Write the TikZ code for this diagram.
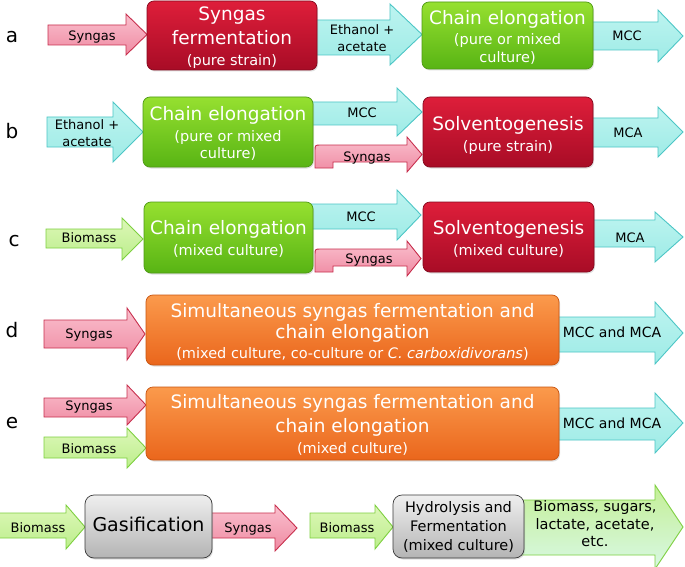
\documentclass[tikz,border=0pt]{standalone}
\usepackage{fontspec}
\setmainfont{DejaVu Sans}
\usetikzlibrary{shadows}
\definecolor{pinktop}{HTML}{FAC0CE}
\definecolor{pinkbot}{HTML}{EF8AA2}
\definecolor{pinkline}{HTML}{C8304E}
\definecolor{cyantop}{HTML}{BDF4F0}
\definecolor{cyanbot}{HTML}{9EEBE6}
\definecolor{cyanline}{HTML}{4CC6C6}
\definecolor{lgtop}{HTML}{DDF7B8}
\definecolor{lgbot}{HTML}{BCEE8C}
\definecolor{lgline}{HTML}{7ED040}
\definecolor{bgtop}{HTML}{C4EF96}
\definecolor{bgbot}{HTML}{D8F8E4}
\definecolor{redtop}{HTML}{DE1E3A}
\definecolor{redbot}{HTML}{A80C26}
\definecolor{redline}{HTML}{86081E}
\definecolor{grtop}{HTML}{96E030}
\definecolor{grbot}{HTML}{58B414}
\definecolor{grline}{HTML}{4E9A14}
\definecolor{ortop}{HTML}{FB9A4C}
\definecolor{orbot}{HTML}{EA661C}
\definecolor{orline}{HTML}{C85510}
\definecolor{gytop}{HTML}{EFEFEF}
\definecolor{gybot}{HTML}{B4B4B4}
\definecolor{gyline}{HTML}{3A3A3A}
\newcommand{\blockarr}[8]{\path[#1] (#2,#5) -- (#3,#5) -- (#3,#7) -- (#4,{(#7+#8)/2}) -- (#3,#8) -- (#3,#6) -- (#2,#6) -- cycle;}
\newcommand{\bentarr}[9]{\path[#1] (#2,#7) -- (#2,{#5+6}) .. controls (#2,#5) .. ({#2+6},#5) -- (#3,#5) -- (#3,#8) -- (#4,{(#8+#9)/2}) -- (#3,#9) -- (#3,#6) -- ({#2+18},#6) -- ({#2+18},#7) -- cycle;}
\begin{document}
\begin{tikzpicture}[x=1pt,y=-1pt,
  pinkarr/.style={draw=pinkline, top color=pinktop, bottom color=pinkbot, line width=0.9pt, line join=miter},
  cyanarr/.style={draw=cyanline, top color=cyantop, bottom color=cyanbot, line width=0.9pt},
  greenarr/.style={draw=lgline, top color=lgtop, bottom color=lgbot, line width=0.9pt},
  biggreen/.style={draw=lgline, top color=bgtop, bottom color=bgbot, line width=0.9pt},
  boxbase/.style={rectangle, rounded corners=7pt, line width=0.7pt, inner sep=0pt,
     drop shadow={shadow xshift=1pt, shadow yshift=-1.5pt, opacity=0.25}},
  redbox/.style={boxbase, draw=redline, top color=redtop, bottom color=redbot},
  greenbox/.style={boxbase, draw=grline, top color=grtop, bottom color=grbot},
  orangebox/.style={boxbase, draw=orline, top color=ortop, bottom color=orbot},
  graybox/.style={boxbase, draw=gyline, top color=gytop, bottom color=gybot, rounded corners=9pt},
  ttl/.style={font=\fontsize{18.5}{20}\selectfont, text=white, anchor=mid, inner sep=0pt, yshift=-3pt},
  sub/.style={font=\fontsize{14.5}{16}\selectfont, text=white, anchor=mid, inner sep=0pt, yshift=-2.5pt},
  lbl/.style={font=\fontsize{13}{15}\selectfont, text=black, anchor=mid, inner sep=0pt, yshift=-2pt},
  lblb/.style={font=\fontsize{14}{16}\selectfont, text=black, anchor=mid, inner sep=0pt, yshift=-2pt},
  gtxt/.style={font=\fontsize{14.5}{16}\selectfont, text=black, anchor=mid, inner sep=0pt, yshift=-2pt},
  rowlbl/.style={font=\fontsize{20}{22}\selectfont, text=black, anchor=mid, inner sep=0pt, yshift=-2pt}
]
\useasboundingbox (0,0) rectangle (685,567);
\fill[white] (0,0) rectangle (685,567);

% ---------- arrows (behind boxes) ----------
% row a
\blockarr{pinkarr}{48}{126}{147}{25}{45}{14}{55}
\blockarr{cyanarr}{310}{390}{422}{20}{55}{4}{65}
\blockarr{cyanarr}{585}{658}{683}{22}{50}{10}{62}
% row b
\blockarr{cyanarr}{47}{113}{143}{117}{147}{102}{162}
\blockarr{cyanarr}{305}{397}{422}{102}{125}{88}{136}
\bentarr{pinkarr}{315}{407}{422}{145}{162}{168}{137}{172}
\blockarr{cyanarr}{585}{658}{683}{118}{147}{107}{157}
% row c
\blockarr{greenarr}{46}{122}{143}{229}{248}{218}{260}
\blockarr{cyanarr}{305}{397}{421}{204}{229}{190}{240}
\bentarr{pinkarr}{315}{407}{421}{249}{266}{272}{241}{276}
\blockarr{cyanarr}{585}{655}{683}{220}{247}{212}{262}
% row d
\blockarr{pinkarr}{44}{127}{145}{320}{348}{308}{360}
\blockarr{cyanarr}{550}{655}{683}{317}{352}{302}{364}
% row e
\blockarr{pinkarr}{44}{127}{146}{398}{417}{385}{425}
\blockarr{greenarr}{44}{127}{146}{437}{458}{428}{468}
\blockarr{cyanarr}{550}{655}{683}{408}{440}{393}{453}
% bottom row
\blockarr{greenarr}{-2}{66}{85}{513}{538}{505}{549}
\blockarr{pinkarr}{205}{275}{297}{513}{538}{505}{551}
\blockarr{greenarr}{310}{375}{393}{513}{538}{505}{549}
\blockarr{biggreen}{515}{655}{683}{500}{555}{485}{569}

% ---------- boxes ----------
\node[redbox, minimum width=170pt, minimum height=69pt] (A1) at (232,35.5) {};
\node[greenbox, minimum width=171pt, minimum height=67pt] (A2) at (507.5,35.5) {};
\node[greenbox, minimum width=170pt, minimum height=70pt] (B1) at (228,132) {};
\node[redbox, minimum width=170pt, minimum height=70pt] (B2) at (508,132) {};
\node[greenbox, minimum width=169pt, minimum height=71pt] (C1) at (228.5,237.5) {};
\node[redbox, minimum width=171pt, minimum height=70pt] (C2) at (508.5,237) {};
\node[orangebox, minimum width=413pt, minimum height=70pt] (D1) at (352.5,330) {};
\node[orangebox, minimum width=413pt, minimum height=73pt] (E1) at (352.5,423.5) {};
\node[graybox, minimum width=127pt, minimum height=63pt] (G1) at (148.5,526.5) {};
\node[graybox, minimum width=131pt, minimum height=63pt] (H1) at (458.5,526.5) {};

% ---------- row labels ----------
\node[rowlbl] (la) at (12,38) {a};
\node[rowlbl] (lb) at (12,134) {b};
\node[rowlbl] (lc) at (14,242) {c};
\node[rowlbl] (ld) at (12,333) {d};
\node[rowlbl] (le) at (12,424) {e};

% ---------- row a texts ----------
\node[lbl] (ta1) at (92,36) {Syngas};
\node[ttl] (ta2) at (232,15) {Syngas};
\node[ttl] (ta3) at (232,39) {fermentation};
\node[sub] (ta4) at (232,60) {(pure strain)};
\node[lbl] (ta5) at (362,30) {Ethanol +};
\node[lbl] (ta6) at (362,47) {acetate};
\node[ttl] (ta7) at (507.5,19) {Chain elongation};
\node[sub] (ta8) at (507.5,39) {(pure or mixed};
\node[sub] (ta9) at (507.5,57) {culture)};
\node[lbl] (ta10) at (627,36) {MCC};

% ---------- row b texts ----------
\node[lbl] (tb1) at (87,125) {Ethanol +};
\node[lbl] (tb2) at (87,142) {acetate};
\node[ttl] (tb3) at (228,115) {Chain elongation};
\node[sub] (tb4) at (228,136) {(pure or mixed};
\node[sub] (tb5) at (228,153) {culture)};
\node[lbl] (tb6) at (362,113) {MCC};
\node[lbl] (tb7) at (367,157) {Syngas};
\node[ttl] (tb8) at (508,125) {Solventogenesis};
\node[sub] (tb9) at (508,146) {(pure strain)};
\node[lbl] (tb10) at (628,133) {MCA};

% ---------- row c texts ----------
\node[lbl] (tc1) at (89,238) {Biomass};
\node[ttl] (tc2) at (228.5,229) {Chain elongation};
\node[sub] (tc3) at (228.5,250) {(mixed culture)};
\node[lbl] (tc4) at (361,217) {MCC};
\node[lbl] (tc5) at (369,259) {Syngas};
\node[ttl] (tc6) at (508.5,229) {Solventogenesis};
\node[sub] (tc7) at (508.5,250) {(mixed culture)};
\node[lbl] (tc8) at (630,238) {MCA};

% ---------- row d texts ----------
\node[lbl] (td1) at (89,334) {Syngas};
\node[ttl] (td2) at (352.5,312) {Simultaneous syngas fermentation and};
\node[ttl] (td3) at (352.5,333) {chain elongation};
\node[sub] (td4) at (352.5,353) {(mixed culture, co-culture or \textit{C. carboxidivorans})};
\node[lblb] (td5) at (612,333) {MCC and MCA};

% ---------- row e texts ----------
\node[lbl] (te1) at (89,406) {Syngas};
\node[lbl] (te2) at (89,449) {Biomass};
\node[ttl] (te3) at (352.5,403) {Simultaneous syngas fermentation and};
\node[ttl] (te4) at (352.5,427) {chain elongation};
\node[sub] (te5) at (352.5,448) {(mixed culture)};
\node[lblb] (te6) at (612,424) {MCC and MCA};

% ---------- bottom row texts ----------
\node[lbl] (tf1) at (38,528) {Biomass};
\node[font=\fontsize{19}{21}\selectfont, text=black, anchor=mid, inner sep=0pt, yshift=-2pt] (tf2) at (148.5,527) {Gasification};
\node[lbl] (tf3) at (248,528) {Syngas};
\node[lbl] (tf4) at (347,528) {Biomass};
\node[gtxt] (tf5) at (458.5,508) {Hydrolysis and};
\node[gtxt] (tf6) at (458.5,527) {Fermentation};
\node[gtxt] (tf7) at (458.5,546) {(mixed culture)};
\node[gtxt] (tf8) at (595,507) {Biomass, sugars,};
\node[gtxt] (tf9) at (595,525) {lactate, acetate,};
\node[gtxt] (tf10) at (595,542) {etc.};
\end{tikzpicture}
\end{document}
